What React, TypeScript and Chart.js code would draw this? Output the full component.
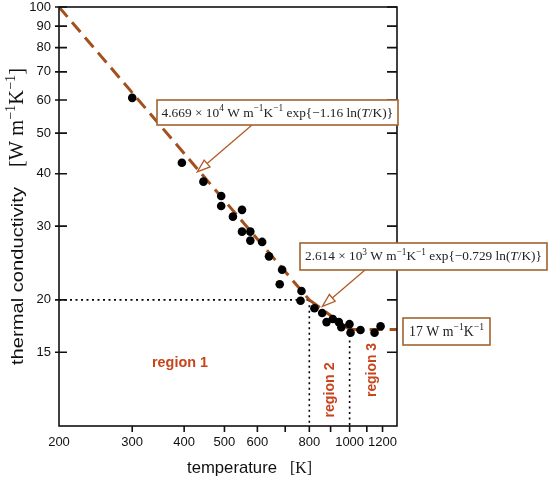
import React, { useRef, useEffect } from 'react';
import { Chart, registerables } from 'chart.js';

Chart.register(...registerables);

// measured points (temperature in K, conductivity in W m^-1 K^-1)
const temperatures = [300, 395, 445, 491, 491, 524, 551, 551, 577, 577, 616, 640, 688, 679, 766, 762, 823, 859, 880, 911, 942, 955, 999, 1005, 1062, 1148, 1187];
const conductivities = [60.7, 42.5, 38.3, 35.4, 33.5, 31.6, 32.8, 29.1, 29.1, 27.7, 27.5, 25.4, 23.6, 21.8, 21.0, 19.9, 19.1, 18.6, 17.7, 18.0, 17.7, 17.2, 17.5, 16.7, 16.95, 16.7, 17.3];

// fitted power laws, endpoints only (straight lines on log-log axes)
const fit1T = [200, 800];
const fit1K = [100, 20];
const fit2T = [800, 1000];
const fit2K = [20, 17];
const fit3T = [1000, 1300];
const fit3K = [17, 17];

// dotted region boundaries
const guideHT = [200, 800];
const guideHK = [20, 20];
const guide2T = [800, 800];
const guide2K = [20, 10];
const guide3T = [1000, 1000];
const guide3K = [17, 10];

const xTicks = [200, 300, 400, 500, 600, 700, 800, 900, 1000, 1100, 1200];
const xTickLabels = [200, 300, 400, 500, 600, 800, 1000, 1200];
const yTicks = [15, 20, 30, 40, 50, 60, 70, 80, 90, 100];

const SANS = '"Liberation Sans", Arial, Helvetica, sans-serif';
const SERIF = '"Liberation Serif", "Times New Roman", serif';
const BROWN = '#a0652d';
const ARROW = '#b05a26';
const REGION = '#c8441c';

type Seg = [string, 'n' | 's' | 'i'];

const zip = (xs: number[], ys: number[]) => xs.map((x, i) => ({ x, y: ys[i] }));

function segFont(kind: string, size: number) {
  const fs = kind === 's' ? size * 0.7 : size;
  return `${kind === 'i' ? 'italic ' : ''}${fs}px ${SERIF}`;
}

function richWidth(ctx: CanvasRenderingContext2D, segs: Seg[], size: number) {
  let w = 0;
  for (const [t, k] of segs) {
    ctx.font = segFont(k, size);
    w += ctx.measureText(t).width;
  }
  return w;
}

function drawRich(ctx: CanvasRenderingContext2D, segs: Seg[], x: number, y: number, size: number) {
  let cx = x;
  for (const [t, k] of segs) {
    ctx.font = segFont(k, size);
    ctx.fillText(t, cx, k === 's' ? y - size * 0.4 : y);
    cx += ctx.measureText(t).width;
  }
}

// pick a font size so the rich text spans the wanted width
function fitSize(ctx: CanvasRenderingContext2D, segs: Seg[], target: number) {
  return (14 * target) / richWidth(ctx, segs, 14);
}

function fitText(ctx: CanvasRenderingContext2D, text: string, font: string, x: number, y: number, width: number, rot: number, align: CanvasTextAlign) {
  ctx.save();
  ctx.font = font;
  ctx.textAlign = align;
  const w = ctx.measureText(text).width;
  ctx.translate(x, y);
  ctx.rotate(rot);
  ctx.scale(width / w, 1);
  ctx.fillText(text, 0, 0);
  ctx.restore();
}

function labelBox(ctx: CanvasRenderingContext2D, segs: Seg[], x1: number, y1: number, x2: number, y2: number, textW: number) {
  ctx.save();
  ctx.fillStyle = '#ffffff';
  ctx.fillRect(x1, y1, x2 - x1, y2 - y1);
  ctx.strokeStyle = BROWN;
  ctx.lineWidth = 1.6;
  ctx.strokeRect(x1, y1, x2 - x1, y2 - y1);
  const size = fitSize(ctx, segs, textW);
  ctx.fillStyle = '#222';
  ctx.textBaseline = 'alphabetic';
  ctx.textAlign = 'left';
  drawRich(ctx, segs, x1 + (x2 - x1 - textW) / 2, (y1 + y2) / 2 + size * 0.3, size);
  ctx.restore();
}

function arrow(ctx: CanvasRenderingContext2D, fx: number, fy: number, tx: number, ty: number) {
  const ang = Math.atan2(ty - fy, tx - fx);
  const len = 13;
  const half = 4.5;
  const bx = tx - len * Math.cos(ang);
  const by = ty - len * Math.sin(ang);
  ctx.save();
  ctx.strokeStyle = ARROW;
  ctx.lineWidth = 1.3;
  ctx.beginPath();
  ctx.moveTo(fx, fy);
  ctx.lineTo(bx, by);
  ctx.stroke();
  ctx.beginPath();
  ctx.moveTo(tx, ty);
  ctx.lineTo(bx + half * Math.sin(ang), by - half * Math.cos(ang));
  ctx.lineTo(bx - half * Math.sin(ang), by + half * Math.cos(ang));
  ctx.closePath();
  ctx.fillStyle = '#fff';
  ctx.fill();
  ctx.stroke();
  ctx.restore();
}

const decorations = {
  id: 'decorations',
  afterDraw(chart: Chart) {
    const { ctx, chartArea: a } = chart;
    const xs = chart.scales.x;
    const ys = chart.scales.y;
    ctx.save();

    // frame and tick marks
    ctx.strokeStyle = '#111';
    ctx.lineWidth = 1.6;
    ctx.strokeRect(a.left, a.top, a.right - a.left, a.bottom - a.top);
    ctx.beginPath();
    yTicks.forEach(v => {
      const py = ys.getPixelForValue(v);
      ctx.moveTo(a.left - 4, py);
      ctx.lineTo(a.left + 8, py);
      ctx.moveTo(a.right - 10, py);
      ctx.lineTo(a.right, py);
    });
    xTicks.forEach(v => {
      const px = xs.getPixelForValue(v);
      if (px - a.left < 2) return;
      ctx.moveTo(px, a.bottom);
      ctx.lineTo(px, a.bottom + 6);
    });
    ctx.stroke();

    // annotation boxes and arrows
    const one: Seg[] = [['4.669 × 10', 'n'], ['4', 's'], [' W m', 'n'], ['−1', 's'], ['K', 'n'], ['−1', 's'], [' exp{−1.16 ln(', 'n'], ['T', 'i'], ['/K)}', 'n']];
    const two: Seg[] = [['2.614 × 10', 'n'], ['3', 's'], [' W m', 'n'], ['−1', 's'], ['K', 'n'], ['−1', 's'], [' exp{−0.729 ln(', 'n'], ['T', 'i'], ['/K)}', 'n']];
    const three: Seg[] = [['17 W m', 'n'], ['−1', 's'], ['K', 'n'], ['−1', 's']];
    arrow(ctx, 252, 125, xs.getPixelForValue(430), ys.getPixelForValue(40.4));
    arrow(ctx, 365, 270, xs.getPixelForValue(860), ys.getPixelForValue(19.3));
    labelBox(ctx, one, 157, 100, 398, 125, 232);
    labelBox(ctx, two, 300, 243, 547, 270, 237);
    labelBox(ctx, three, 403, 318, 490, 345, 75);

    // region labels
    ctx.fillStyle = REGION;
    ctx.textBaseline = 'middle';
    const rf = `bold 15px ${SANS}`;
    fitText(ctx, 'region 1', rf, 180, 363, 56, 0, 'center');
    fitText(ctx, 'region 2', rf, 330, 390, 55, -Math.PI / 2, 'center');
    fitText(ctx, 'region 3', rf, 372, 370, 54, -Math.PI / 2, 'center');

    // axis titles
    ctx.fillStyle = '#111';
    ctx.textBaseline = 'alphabetic';
    fitText(ctx, 'temperature', `17px ${SANS}`, 187, 473, 90, 0, 'left');
    const kSegs: Seg[] = [['[K]', 'n']];
    drawRich(ctx, kSegs, 290, 473, fitSize(ctx, kSegs, 22));

    fitText(ctx, 'thermal conductivity', `17px ${SANS}`, 23, 365, 178, -Math.PI / 2, 'left');
    const unit: Seg[] = [['[W m', 'n'], ['−1', 's'], ['K', 'n'], ['−1', 's'], [']', 'n']];
    ctx.save();
    ctx.translate(23, 167);
    ctx.rotate(-Math.PI / 2);
    drawRich(ctx, unit, 0, 0, fitSize(ctx, unit, 99));
    ctx.restore();

    ctx.restore();
  },
};

const App: React.FC = () => {
  const chartRef = useRef<HTMLCanvasElement>(null);
  const chartInstance = useRef<Chart | null>(null);

  useEffect(() => {
    if (!chartRef.current) return;
    if (chartInstance.current) chartInstance.current.destroy();

    const fitStyle = {
      showLine: true,
      borderColor: '#a3501f',
      borderWidth: 3,
      borderDash: [13, 7],
      pointRadius: 0,
      fill: false,
    };
    const guideStyle = {
      showLine: true,
      borderColor: '#000',
      borderWidth: 1.6,
      borderDash: [2, 3.5],
      pointRadius: 0,
      fill: false,
    };
    const tickFont = { family: SANS, size: 13 };

    chartInstance.current = new Chart(chartRef.current, {
      type: 'scatter',
      data: {
        datasets: [
          {
            data: zip(temperatures, conductivities),
            pointRadius: 4.3,
            pointBackgroundColor: '#000',
            pointBorderWidth: 0,
            showLine: false,
          },
          { data: zip(fit1T, fit1K), ...fitStyle },
          { data: zip(fit2T, fit2K), ...fitStyle },
          { data: zip(fit3T, fit3K), ...fitStyle },
          { data: zip(guideHT, guideHK), ...guideStyle },
          { data: zip(guide2T, guide2K), ...guideStyle },
          { data: zip(guide3T, guide3K), ...guideStyle },
        ],
      },
      options: {
        animation: false,
        responsive: true,
        maintainAspectRatio: false,
        layout: { padding: { left: 0, top: 7, right: 153, bottom: 0 } },
        plugins: { legend: { display: false }, tooltip: { enabled: false } },
        scales: {
          x: {
            type: 'logarithmic',
            min: 200,
            max: 1300,
            grid: { display: false, drawTicks: false },
            border: { display: false },
            ticks: {
              autoSkip: false,
              maxRotation: 0,
              padding: 9,
              color: '#111',
              font: tickFont,
              callback: (v: any) => (xTickLabels.includes(Number(v)) ? String(v) : ''),
            },
            afterBuildTicks: (s: any) => {
              s.ticks = xTicks.map(v => ({ value: v }));
            },
            afterFit: (s: any) => {
              s.height = 56;
              s.paddingLeft = 0;
              s.paddingRight = 0;
            },
          },
          y: {
            type: 'logarithmic',
            min: 10,
            max: 100,
            grid: { display: false, drawTicks: false },
            border: { display: false },
            ticks: {
              autoSkip: false,
              padding: 8,
              color: '#111',
              font: tickFont,
              callback: (v: any) => String(v),
            },
            afterBuildTicks: (s: any) => {
              s.ticks = yTicks.map(v => ({ value: v }));
            },
            afterFit: (s: any) => {
              s.width = 59;
              s.paddingTop = 0;
              s.paddingBottom = 0;
            },
          },
        },
      },
      plugins: [decorations],
    });

    return () => {
      if (chartInstance.current) {
        chartInstance.current.destroy();
        chartInstance.current = null;
      }
    };
  }, []);

  return (
    <div style={{ position: 'absolute', left: 0, top: 0, width: 550, height: 482, background: '#fff' }}>
      <canvas ref={chartRef} />
    </div>
  );
};

export default App;
